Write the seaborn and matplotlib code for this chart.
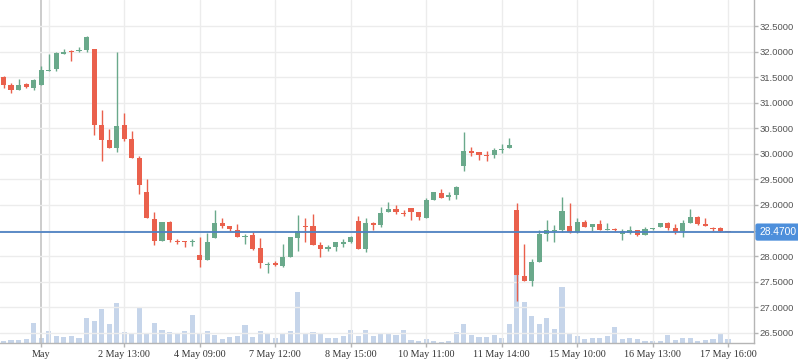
import numpy as np
import pandas as pd
import matplotlib
matplotlib.use('Agg')
import matplotlib.pyplot as plt
import matplotlib.transforms as mtransforms
import seaborn as sns

# OHLC per candle
opens = [31.50, 31.345, 31.25, 31.36, 31.29, 31.345, 31.63, 31.66, 31.95, 32.02,
         32.01, 32.03, 32.05, 30.56, 30.27, 30.11, 30.56, 30.29, 29.91, 29.25,
         28.72, 28.30, 28.66, 28.295, 28.29, 28.28, 28.03, 27.93, 28.36, 28.64,
         28.58, 28.52, 28.37, 28.41, 28.16, 27.82, 27.86, 27.80, 27.98, 28.35,
         28.59, 28.59, 28.21, 28.13, 28.17, 28.23, 28.27, 28.68, 28.14, 28.65,
         28.61, 28.86, 28.92, 28.84, 28.94, 28.86, 28.74, 29.09, 29.23, 29.16,
         29.19, 29.76, 30.05, 30.03, 29.98, 29.98, 30.08, 30.11, 28.90, 27.61,
         27.52, 27.89, 28.43, 28.49, 28.51, 28.59, 28.47, 28.66, 28.57, 28.62,
         28.51, 28.53, 28.43, 28.45, 28.51, 28.41, 28.53, 28.57, 28.64, 28.55,
         28.49, 28.64, 28.76, 28.62, 28.55, 28.55, 28.49]
highs = [31.52, 31.385, 31.46, 31.385, 31.46, 31.72, 31.96, 31.99, 32.05, 32.03,
         32.09, 32.31, 32.05, 30.86, 30.48, 31.99, 30.80, 30.45, 29.96, 29.50,
         28.86, 28.66, 28.68, 28.33, 28.29, 28.33, 28.37, 28.45, 28.90, 28.74,
         28.58, 28.63, 28.43, 28.47, 28.35, 27.88, 27.90, 28.23, 28.37, 28.80,
         28.74, 28.82, 28.27, 28.21, 28.27, 28.33, 28.39, 28.78, 28.74, 28.66,
         28.96, 29.06, 29.00, 28.90, 28.94, 28.86, 29.13, 29.25, 29.31, 29.25,
         29.37, 30.43, 30.13, 30.03, 30.05, 30.11, 30.19, 30.31, 29.04, 28.23,
         27.94, 28.51, 28.70, 28.61, 29.15, 29.04, 28.74, 28.70, 28.62, 28.70,
         28.64, 28.55, 28.53, 28.59, 28.51, 28.57, 28.55, 28.64, 28.66, 28.63,
         28.70, 28.92, 28.78, 28.74, 28.57, 28.57, 28.49]
lows = [31.29, 31.19, 31.25, 31.29, 31.25, 31.345, 31.62, 31.62, 31.95, 31.82,
        32.00, 31.99, 30.37, 29.86, 30.11, 30.03, 30.25, 29.92, 29.22, 28.75,
        28.22, 28.30, 28.28, 28.24, 28.18, 28.20, 27.78, 27.93, 28.36, 28.54,
        28.49, 28.38, 28.24, 28.12, 27.77, 27.67, 27.80, 27.78, 27.98, 28.10,
        28.27, 28.21, 27.98, 28.10, 28.10, 28.17, 28.25, 28.14, 28.08, 28.51,
        28.57, 28.86, 28.82, 28.78, 28.70, 28.70, 28.74, 29.09, 29.13, 29.09,
        29.11, 29.66, 29.96, 29.88, 29.86, 29.92, 30.02, 30.11, 27.12, 27.52,
        27.42, 27.89, 28.29, 28.27, 28.47, 28.45, 28.45, 28.57, 28.49, 28.51,
        28.51, 28.49, 28.31, 28.43, 28.39, 28.41, 28.51, 28.57, 28.51, 28.43,
        28.37, 28.64, 28.61, 28.59, 28.49, 28.47, 28.47]
closes = [31.345, 31.25, 31.345, 31.31, 31.44, 31.65, 31.65, 31.97, 32.00, 32.00,
          32.03, 32.28, 30.56, 30.27, 30.11, 30.54, 30.29, 29.92, 29.39, 28.75,
          28.30, 28.66, 28.32, 28.27, 28.27, 28.30, 27.93, 28.27, 28.64, 28.58,
          28.53, 28.38, 28.39, 28.14, 27.86, 27.84, 27.82, 27.98, 28.37, 28.49,
          28.57, 28.21, 28.13, 28.17, 28.27, 28.27, 28.37, 28.14, 28.64, 28.61,
          28.84, 28.92, 28.86, 28.82, 28.86, 28.76, 29.09, 29.25, 29.13, 29.19,
          29.35, 30.05, 30.01, 29.98, 29.96, 30.07, 30.10, 30.17, 27.63, 27.52,
          27.88, 28.43, 28.51, 28.51, 28.88, 28.47, 28.66, 28.57, 28.62, 28.51,
          28.53, 28.51, 28.49, 28.51, 28.41, 28.53, 28.55, 28.64, 28.55, 28.47,
          28.64, 28.76, 28.62, 28.59, 28.53, 28.49, 28.47]
# volume (thousands)
volumes = [2, 3, 3, 4, 20, 5, 12, 7, 6, 7,
           5, 25, 22, 34, 19, 40, 11, 10, 36, 10,
           20, 13, 11, 9, 12, 28, 9, 12, 8, 4,
           6, 7, 18, 6, 12, 10, 5, 9, 12, 51,
           10, 11, 10, 5, 5, 7, 13, 7, 13, 7,
           9, 9, 8, 13, 3, 2, 4, 2, 1, 2,
           11, 19, 8, 6, 6, 8, 5, 19, 69, 41,
           27, 19, 25, 14, 56, 9, 7, 4, 5, 5,
           7, 16, 4, 5, 4, 2, 2, 2, 8, 3,
           5, 5, 2, 3, 4, 10, 4]

tick_idx = [5, 16, 26, 36, 46, 56, 66, 76, 86, 96]
tick_labels = ['May', '2 May 13:00', '4 May 09:00', '7 May 12:00', '8 May 15:00',
               '10 May 11:00', '11 May 14:00', '15 May 10:00', '16 May 13:00', '17 May 16:00']
month_start_idx = 5

df = pd.DataFrame({'open': opens, 'high': highs, 'low': lows,
                   'close': closes, 'volume': volumes})
df['idx'] = np.arange(len(df))
green, red = '#6aa98b', '#ea604c'
df['color'] = np.where(df['close'] >= df['open'], green, red)

sns.set_theme(style="white")
plt.rcParams['font.family'] = ['Liberation Sans', 'DejaVu Sans']

fig = plt.figure(figsize=(7.98, 3.63), dpi=100)
rect = [0, 20 / 363, 754 / 798, 343 / 363]
axv = fig.add_axes(rect)
ax = fig.add_axes(rect, sharex=axv)
ax.patch.set_visible(False)

# volume bars underneath
sns.barplot(data=df, x='idx', y='volume', native_scale=True, ax=axv,
            color='#c6d5ea', saturation=1, width=0.68, errorbar=None, linewidth=0)
axv.set_ylim(0, df['volume'].max() * 4.97)
axv.axis('off')

# grid
ax.yaxis.grid(True, color='#ececec', lw=1)
ax.set_axisbelow(True)
for i in range(month_start_idx + 1, len(df), 10):
    ax.axvline(i, color='#ececec', lw=1, zorder=0)
ax.axvline(month_start_idx, color='#c4c4c4', lw=1.2, zorder=0.5)

# candles
ax.vlines(df['idx'], df['low'], df['high'], colors=df['color'], lw=1, zorder=2)
body_lo = df[['open', 'close']].min(axis=1)
body_h = (df['close'] - df['open']).abs().clip(lower=0.02)
ax.bar(df['idx'], body_h, bottom=body_lo, width=0.68, color=df['color'],
       linewidth=0, zorder=3)

last = closes[-1]
ax.axhline(last, color='#4f82c2', lw=1.3, zorder=4)

ax.set_xlim(-0.464, 99.44)
ax.set_ylim(26.30, 33.01)

ax.yaxis.tick_right()
yticks = np.arange(26.5, 32.51, 0.5)
ax.set_yticks(yticks)
# the 28.5000 label sits under the last-price box
ax.set_yticklabels(['' if abs(v - last) < 0.1 else f'{v:.4f}' for v in yticks])
ax.tick_params(axis='y', right=True, length=3, width=1, color='#b5b5b5',
               labelsize=6.8, labelcolor='#555555', pad=1)
ax.set_xticks(tick_idx)
ax.set_xticklabels(tick_labels, family='Liberation Serif', fontsize=7.3, color='#333333')
ax.tick_params(axis='x', bottom=True, length=3, width=1, color='#b5b5b5', pad=2)
ax.set_xlabel('')
ax.set_ylabel('')

for s in ['top', 'left']:
    ax.spines[s].set_visible(False)
for s in ['right', 'bottom']:
    ax.spines[s].set_visible(True)
    ax.spines[s].set_color('#b5b5b5')
    ax.spines[s].set_linewidth(1)

trans = mtransforms.blended_transform_factory(ax.transAxes, ax.transData)
ax.text(1.0 + 5 / 754, last, f'{last:.4f}', transform=trans, ha='left', va='center',
        color='white', fontsize=7.4, zorder=10, clip_on=False,
        bbox=dict(boxstyle='round,pad=0.35,rounding_size=0.2', fc='#4d8fdb', ec='none'))

fig.savefig('out.png', dpi=100)
